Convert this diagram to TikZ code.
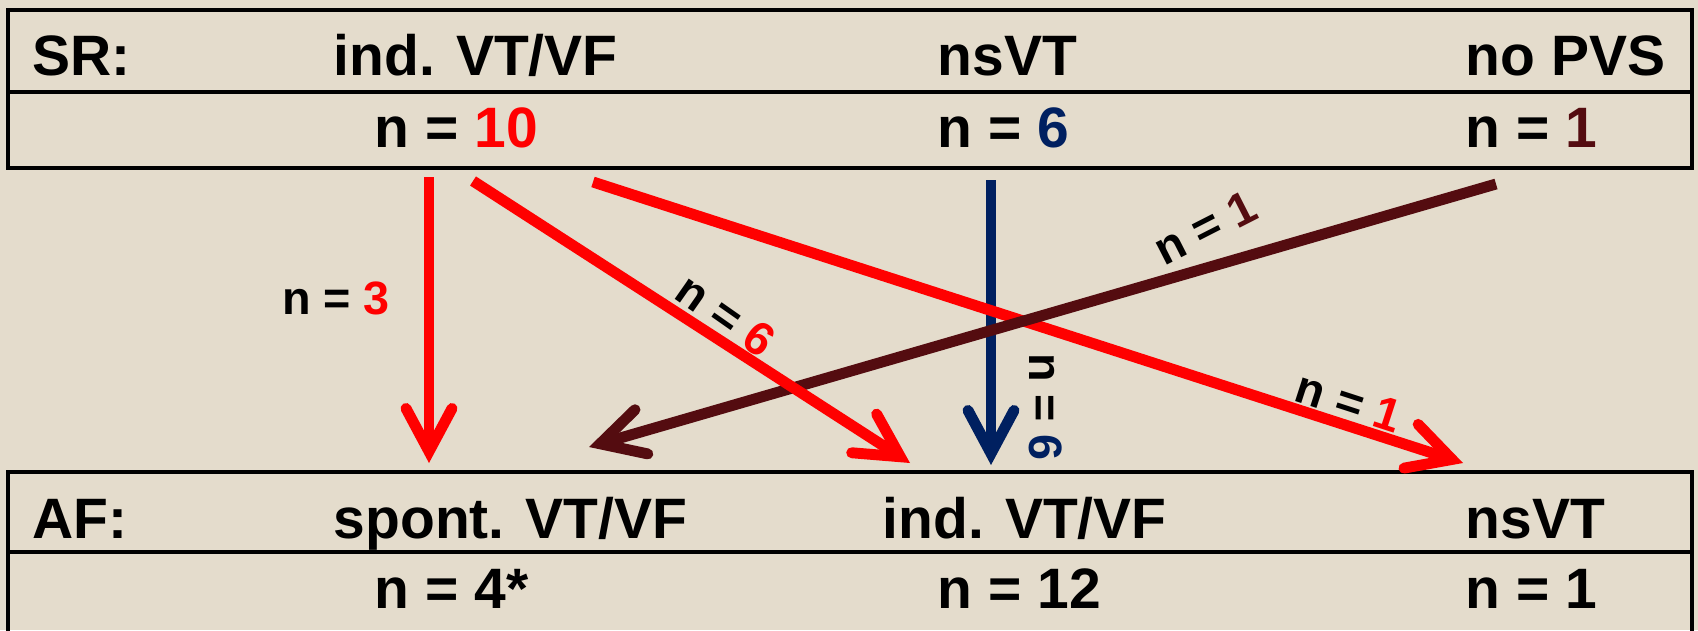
\documentclass[tikz,border=0pt]{standalone}
\usepackage{fontspec}
\setmainfont{Liberation Sans}
\usetikzlibrary{arrows.meta}
\definecolor{paper}{RGB}{228,220,204}
\definecolor{vtred}{RGB}{255,0,0}
\definecolor{nsblue}{RGB}{0,32,96}
\definecolor{pvsbrown}{RGB}{84,12,16}

\begin{document}
\begin{tikzpicture}[
  x=0.01cm, y=-0.01cm,
  every node/.style={inner sep=0pt, anchor=base west, font=\fontsize{16.2}{19}\selectfont\bfseries},
  lbl/.style={anchor=center, font=\fontsize{13.3}{16}\selectfont\bfseries},
  frame/.style={draw=black, line width=1pt},
  arr/.style={line width=3.1pt, -{Straight Barb[length=4.3mm, width=4.6mm, line cap=round, line join=miter]}}
]
\fill[paper] (0,0) rectangle (1698,630);
\useasboundingbox (0,0) rectangle (1698,630);

% boxes
\draw[frame] (8,10) rectangle (1692,168);
\draw[frame] (8,92) -- (1692,92);
\draw[frame] (8,472) rectangle (1692,645);
\draw[frame] (8,552) -- (1692,552);

% SR row
\node (sr)    at (32,75)   {SR:};
\node (srVT)  at (333,75)  {ind. VT/VF};
\node (srNS)  at (937,75)  {nsVT};
\node (srPVS) at (1465,75) {no PVS};
\node (nVT)   at (374,147) {n = \textcolor{vtred}{10}};
\node (nNS)   at (937,147) {n = \textcolor{nsblue}{6}};
\node (nPVS)  at (1465,147) {n = \textcolor{pvsbrown}{1}};

% AF row
\node (af)      at (32,538)   {AF:};
\node (afSpont) at (333,538)  {spont. VT/VF};
\node (afInd)   at (882,538)  {ind. VT/VF};
\node (afNS)    at (1465,538) {nsVT};
\node (mSpont)  at (374,608)  {n = 4*};
\node (mInd)    at (937,608)  {n = 12};
\node (mNS)     at (1465,608) {n = 1};

% arrow ends
\coordinate (vtA) at (429,177);  \coordinate (spA) at (429,463);
\coordinate (vtB) at (473,181);  \coordinate (inB) at (910,463);
\coordinate (vtC) at (593,182);  \coordinate (nsC) at (1463,463);
\coordinate (nsD) at (991,180);  \coordinate (inD) at (991,465);
\coordinate (pvE) at (1496,184); \coordinate (spE) at (589,447);

\draw[arr, nsblue] (nsD) -- (inD);
\draw[arr, vtred] (vtC) -- (nsC);
\draw[arr, pvsbrown] (pvE) -- (spE);
\draw[arr, vtred] (vtB) -- (inB);
\draw[arr, vtred] (vtA) -- (spA);

% counts on the arrows
\node[lbl] (cA) at (336,298) {n = \textcolor{vtred}{3}};
\node[lbl, rotate=-35] (cB) at (726,315) {n = \textcolor{vtred}{6}};
\node[lbl, rotate=27] (cE) at (1205,228) {n = \textcolor{pvsbrown}{1}};
\node[lbl, rotate=-90] (cD) at (1046,407) {n = \textcolor{nsblue}{6}};
\node[lbl, rotate=-18] (cC) at (1349,402) {n = \textcolor{vtred}{1}};
\end{tikzpicture}
\end{document}
